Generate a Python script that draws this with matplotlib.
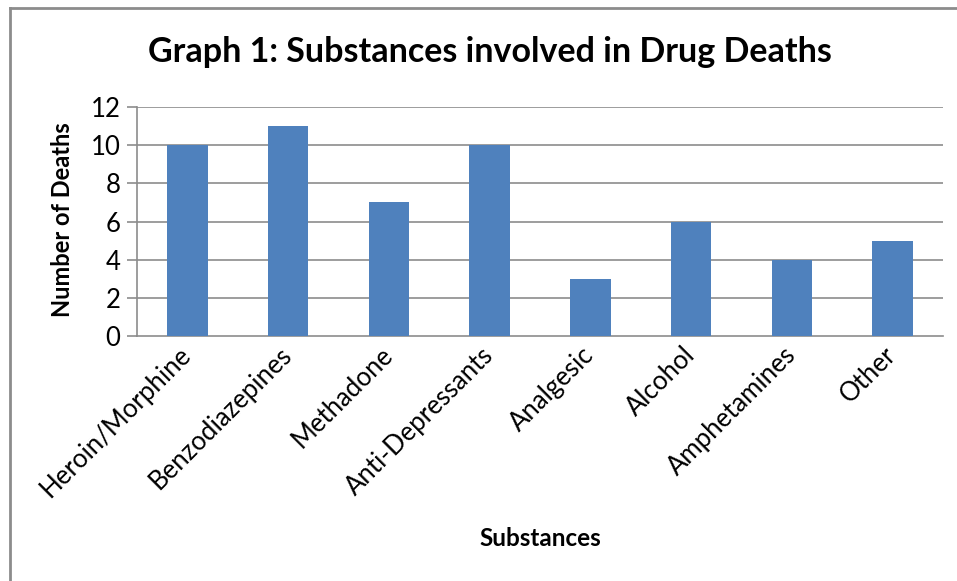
import matplotlib.pyplot as plt
from matplotlib.lines import Line2D

# данные графика
substances = ['Heroin/Morphine', 'Benzodiazepines', 'Methadone', 'Anti-Depressants',
              'Analgesic', 'Alcohol', 'Amphetamines', 'Other']
deaths = [10, 11, 7, 10, 3, 6, 4, 5]
y_ticks = [0, 2, 4, 6, 8, 10, 12]

plt.rcParams['font.family'] = ['Lato', 'DejaVu Sans']

W, H = 957, 581
fig = plt.figure(figsize=(W / 100, H / 100), dpi=100)
ax = fig.add_axes([137 / W, 1 - 336 / H, (943 - 137) / W, (336 - 107) / H])

grid_col = '#8c8c8c'
x = range(len(substances))
ax.bar(x, deaths, width=0.4, color='#4f81bd', zorder=3)

ax.set_xlim(-0.5, len(substances) - 0.5)
ax.set_ylim(0, 12)
ax.set_yticks(y_ticks)
ax.set_yticklabels([str(v) for v in y_ticks], fontsize=18.5, color='black')
ax.set_xticks(list(x))
ax.set_xticklabels(substances, fontsize=18.5, rotation=45, ha='right', va='center',
                   rotation_mode='anchor', color='black')
ax.tick_params(axis='x', length=0, pad=11)
ax.tick_params(axis='y', length=7, width=1.2, color=grid_col, pad=5)

for v in y_ticks[1:]:
    ax.axhline(v, color=grid_col, lw=1.2, zorder=1)
for side in ['top', 'right']:
    ax.spines[side].set_visible(False)
ax.spines['left'].set_color(grid_col)
ax.spines['bottom'].set_color(grid_col)
ax.spines['left'].set_linewidth(1.2)
ax.spines['bottom'].set_linewidth(1.2)

fig.text(62 / W, 1 - 220 / H, 'Number of Deaths', fontsize=17, fontweight='bold',
         rotation=90, ha='center', va='center')
fig.text(540 / W, 1 - 538 / H, 'Substances', fontsize=17.5, fontweight='bold',
         ha='center', va='center')
fig.text(490 / W, 1 - 52 / H, 'Graph 1: Substances involved in Drug Deaths',
         fontsize=24.5, fontweight='bold', ha='center', va='center')

# рамка вокруг диаграммы
fig.add_artist(Line2D([10 / W, 10 / W], [0, 1 - 8 / H], transform=fig.transFigure,
                      color='#8c8c8c', lw=2))
fig.add_artist(Line2D([10 / W, 1], [1 - 8 / H, 1 - 8 / H], transform=fig.transFigure,
                      color='#8c8c8c', lw=2))

fig.savefig('out.png', dpi=100)
